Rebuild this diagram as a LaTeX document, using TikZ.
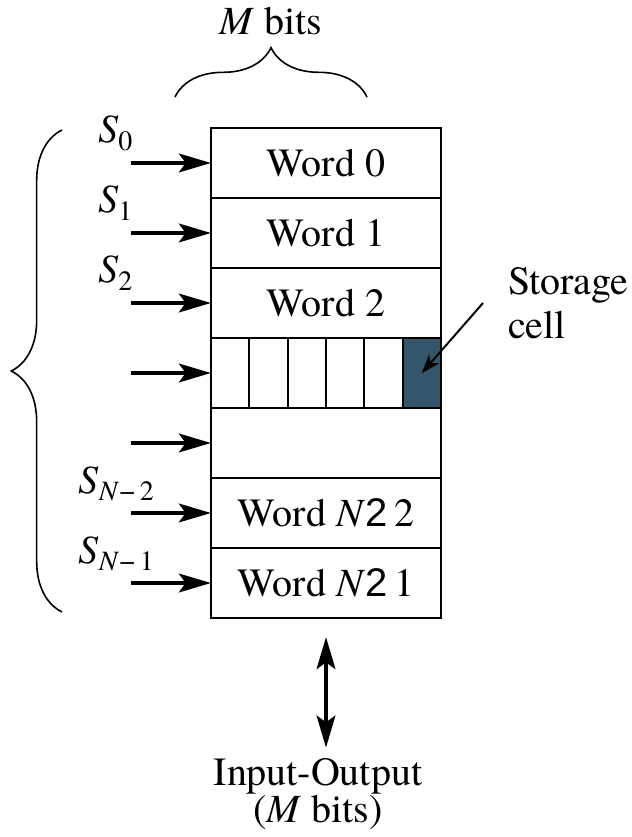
\documentclass[tikz,border=0pt]{standalone}
\usepackage{fontspec}
\setmainfont{texgyretermes}[Extension=.otf, UprightFont=*-regular, ItalicFont=*-italic, BoldFont=*-bold]
\newfontfamily\arialfont{Liberation Sans}
\usetikzlibrary{positioning, calc, arrows.meta, decorations.pathreplacing}
\definecolor{cellblue}{HTML}{34556A}

\begin{document}
\begin{tikzpicture}[x=0.75pt, y=-0.75pt, line width=1.5pt, font=\rmfamily\fontsize{30}{36}\selectfont,
  >={Stealth[length=24pt, width=14pt, inset=5pt]}]
% Block styles
\tikzstyle{word}=[inner sep=0pt, outer sep=0pt, draw=black, minimum width=172.5pt, minimum height=52.5pt]
\tikzstyle{lbl}=[inner sep=0pt, anchor=base west]
\tikzstyle{sig}=[line width=3pt, ->]
\tikzstyle{brc}=[decorate, line width=1.2pt]
\useasboundingbox (0,0) rectangle (631,837);
% Memory words
\node[word] (W0) at (326,163) {Word 0};
\node[word, below=0pt of W0] (W1) {Word 1};
\node[word, below=0pt of W1] (W2) {Word 2};
\node[word, below=0pt of W2] (W3) {};
\node[word, below=0pt of W3] (W4) {};
\node[word, below=0pt of W4] (W5) {Word \textit{N}{\arialfont 2}\,2};
\node[word, below=0pt of W5] (W6) {Word \textit{N}{\arialfont 2}\,1};
% Bit cells
\node[word, fill=cellblue, minimum width=28.75pt, anchor=north east] (SC) at (W3.north east) {};
\foreach \i in {1,...,5}
  \draw ($(W3.north west)!\i/6!(W3.north east)$) -- ($(W3.south west)!\i/6!(W3.south east)$);
% Select lines
\foreach \r in {0,...,6}
  \draw[sig] ([xshift=-60pt]W\r.west) coordinate (a\r) -- (W\r.west);
\node[lbl] (S0) at ([xshift=-25.5pt, yshift=15pt]a0) {\textit{S}\textsubscript{0}};
\node[lbl] (S1) at ([xshift=-25.5pt, yshift=15pt]a1) {\textit{S}\textsubscript{1}};
\node[lbl] (S2) at ([xshift=-25.5pt, yshift=15pt]a2) {\textit{S}\textsubscript{2}};
\node[lbl] (S5) at ([xshift=-40pt, yshift=15pt]a5) {\textit{S}\textsubscript{\textit{N}−\,2}};
\node[lbl] (S6) at ([xshift=-40pt, yshift=15pt]a6) {\textit{S}\textsubscript{\textit{N}−\,1}};
% Braces
\draw[brc, decoration={brace, amplitude=38pt}] (62,612) -- (62,130);
\draw[brc, decoration={brace, amplitude=37pt}] (175,97) -- (367,97);
\node[anchor=base] (MB) at (271,35) {\textit{M} bits};
% Storage cell
\node[inner sep=0pt, anchor=north west, align=left, font=\fontsize{30}{33}\selectfont] (ST) at (507,266) {Storage\\cell};
\coordinate (sa) at (483,303);
\draw[-{Stealth[length=14pt, width=10pt, inset=4pt]}] (sa) -- (SC.center);
% Input-Output
\node[inner sep=0pt, anchor=north, align=center, font=\fontsize{30}{25}\selectfont] (IO) at (318,757) {Input-Output\\(\textit{M} bits)};
\draw[line width=3pt, <->] ([yshift=-14.25pt]W6.south) -- ([yshift=7pt]W6.south |- IO.north);
\end{tikzpicture}
\end{document}
